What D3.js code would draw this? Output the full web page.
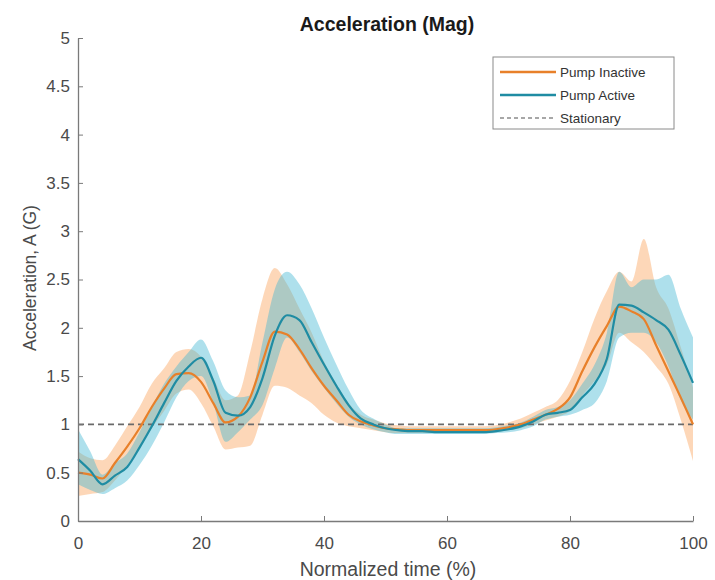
<!DOCTYPE html>
<html>
<head>
<meta charset="utf-8">
<script src="https://cdn.jsdelivr.net/npm/d3@7"></script>
<style>
  html, body { margin: 0; padding: 0; background: #fff; }
  svg { display: block; font-family: "Liberation Sans", Arial, Helvetica, sans-serif; }
</style>
</head>
<body>
<svg id="chart" width="715" height="580"></svg>
<script>
// Normalized time samples (%)
const time = d3.range(0, 101, 2);

// Pump inactive: mean and spread band
const inactiveMean = [0.50,0.48,0.44,0.60,0.77,0.96,1.18,1.37,1.52,1.53,1.44,1.22,1.02,1.08,1.28,1.65,1.96,1.93,1.78,1.58,1.40,1.25,1.10,1.03,0.99,0.96,0.95,0.94,0.94,0.94,0.94,0.94,0.94,0.94,0.95,0.97,1.00,1.05,1.10,1.16,1.28,1.55,1.80,2.02,2.22,2.17,2.09,1.82,1.55,1.28,1.00];
const inactiveLow  = [0.26,0.28,0.30,0.42,0.58,0.76,0.96,1.14,1.32,1.36,1.22,0.98,0.74,0.76,0.78,1.10,1.40,1.38,1.30,1.22,1.10,1.02,0.98,0.96,0.94,0.92,0.91,0.91,0.91,0.91,0.91,0.91,0.91,0.91,0.92,0.94,0.96,1.00,1.04,1.08,1.14,1.30,1.45,1.62,1.95,1.85,1.75,1.60,1.42,1.05,0.62];
const inactiveHigh = [0.72,0.65,0.63,0.78,0.98,1.18,1.42,1.58,1.75,1.78,1.70,1.48,1.25,1.30,1.75,2.30,2.62,2.45,2.20,1.95,1.65,1.42,1.22,1.10,1.05,1.01,0.99,0.98,0.98,0.98,0.98,0.98,0.98,0.98,0.99,1.02,1.06,1.12,1.18,1.25,1.45,1.75,2.10,2.38,2.58,2.48,2.92,2.42,2.20,1.80,1.38];

// Pump active: mean and spread band
const activeMean = [0.64,0.52,0.38,0.47,0.56,0.76,0.98,1.22,1.45,1.60,1.69,1.45,1.12,1.09,1.18,1.48,1.92,2.13,2.08,1.85,1.62,1.40,1.20,1.06,1.00,0.96,0.94,0.93,0.93,0.92,0.92,0.92,0.92,0.92,0.93,0.95,0.98,1.03,1.10,1.12,1.15,1.28,1.42,1.68,2.24,2.23,2.16,2.08,1.98,1.72,1.43];
const activeLow  = [0.38,0.32,0.28,0.34,0.42,0.58,0.78,1.02,1.28,1.45,1.50,1.22,0.82,0.92,1.05,1.20,1.58,1.90,1.75,1.55,1.38,1.22,1.08,1.00,0.95,0.92,0.90,0.90,0.90,0.90,0.90,0.90,0.90,0.90,0.91,0.92,0.94,0.98,1.05,1.08,1.10,1.15,1.22,1.45,1.90,1.95,1.95,1.85,1.60,1.25,1.05];
const activeHigh = [0.95,0.72,0.48,0.60,0.70,0.92,1.18,1.42,1.60,1.75,1.88,1.65,1.35,1.28,1.30,1.85,2.40,2.58,2.45,2.20,1.90,1.62,1.36,1.15,1.06,1.00,0.96,0.96,0.96,0.96,0.96,0.96,0.96,0.96,0.97,0.99,1.02,1.08,1.15,1.18,1.25,1.42,1.62,1.95,2.58,2.42,2.50,2.50,2.55,2.20,1.90];

// Reference level for a stationary device
const stationaryLevel = 1;

// Axis ticks and labels
const xTicks = [0, 20, 40, 60, 80, 100];
const yTicks = [0, 0.5, 1, 1.5, 2, 2.5, 3, 3.5, 4, 4.5, 5];
const titleText = "Acceleration (Mag)";
const xLabel = "Normalized time (%)";
const yLabel = "Acceleration, A (G)";
const legendLabels = ["Pump Inactive", "Pump Active", "Stationary"];

const colors = {
  inactiveLine: "#e8802a",
  inactiveBand: "#fb9f55",
  activeLine: "#1f8ca3",
  activeBand: "#3fb4d2",
  axis: "#7a7a7a",
  text: "#4a4a4a"
};

const svg = d3.select("#chart");
const margin = { left: 78, right: 22, top: 38, bottom: 59 };
const W = 715, H = 580;

const x = d3.scaleLinear().domain([0, 100]).range([margin.left, W - margin.right]);
const y = d3.scaleLinear().domain([0, 5]).range([H - margin.bottom, margin.top]);

const series = [
  { mean: inactiveMean, low: inactiveLow, high: inactiveHigh, line: colors.inactiveLine, band: colors.inactiveBand, bandOpacity: 0.42 },
  { mean: activeMean, low: activeLow, high: activeHigh, line: colors.activeLine, band: colors.activeBand, bandOpacity: 0.42 }
];

const area = (lo, hi) => d3.area()
  .x((d, i) => x(time[i]))
  .y0((d, i) => y(lo[i]))
  .y1((d, i) => y(hi[i]))
  .curve(d3.curveMonotoneX)(time);

const line = vals => d3.line()
  .x((d, i) => x(time[i]))
  .y((d, i) => y(vals[i]))
  .curve(d3.curveMonotoneX)(time);

// Spread bands
series.forEach(s => {
  svg.append("path")
    .attr("d", area(s.low, s.high))
    .attr("fill", s.band)
    .attr("fill-opacity", s.bandOpacity)
    .attr("stroke", "none");
});

// Stationary reference line
svg.append("line")
  .attr("x1", x(0)).attr("x2", x(100))
  .attr("y1", y(stationaryLevel)).attr("y2", y(stationaryLevel))
  .attr("stroke", "#6a6a6a")
  .attr("stroke-width", 1.6)
  .attr("stroke-dasharray", "6,4");

// Mean lines
series.forEach(s => {
  svg.append("path")
    .attr("d", line(s.mean))
    .attr("fill", "none")
    .attr("stroke", s.line)
    .attr("stroke-width", 2.2)
    .attr("stroke-linejoin", "round");
});

// Axes with inward ticks
const xAxis = d3.axisBottom(x).tickValues(xTicks).tickSizeInner(-5).tickSizeOuter(0).tickPadding(16);
const yAxis = d3.axisLeft(y).tickValues(yTicks).tickSizeInner(-5).tickSizeOuter(0).tickPadding(8)
  .tickFormat(d3.format("~g"));

const gx = svg.append("g").attr("transform", `translate(0,${y(0)})`).call(xAxis);
const gy = svg.append("g").attr("transform", `translate(${x(0)},0)`).call(yAxis);

[gx, gy].forEach(g => {
  g.select(".domain").attr("stroke", colors.axis).attr("stroke-width", 1.3);
  g.selectAll(".tick line").attr("stroke", colors.axis).attr("stroke-width", 1);
  g.selectAll(".tick text").attr("fill", colors.text).style("font-size", "17px")
    .style("font-family", "'Liberation Sans', Arial, sans-serif");
});

// Title and axis labels
svg.append("text")
  .attr("x", 387).attr("y", 31)
  .attr("text-anchor", "middle")
  .style("font-size", "19.5px").style("font-weight", "bold").attr("fill", "#1a1a1a")
  .text(titleText);

svg.append("text")
  .attr("x", 388).attr("y", 576)
  .attr("text-anchor", "middle")
  .style("font-size", "19.5px").attr("fill", colors.text)
  .text(xLabel);

svg.append("text")
  .attr("transform", "translate(36,278) rotate(-90)")
  .attr("text-anchor", "middle")
  .style("font-size", "17.5px").attr("fill", colors.text)
  .text(yLabel);

// Legend
const lg = svg.append("g").attr("transform", "translate(493,57)");
lg.append("rect")
  .attr("width", 181).attr("height", 72)
  .attr("fill", "#fff").attr("stroke", "#8a8a8a").attr("stroke-width", 1);

const legendItems = [
  { label: legendLabels[0], stroke: colors.inactiveLine, dash: null, width: 2.6 },
  { label: legendLabels[1], stroke: colors.activeLine, dash: null, width: 2.6 },
  { label: legendLabels[2], stroke: "#8a8a8a", dash: "4,3", width: 1.3 }
];
legendItems.forEach((d, i) => {
  const yy = 15 + i * 23;
  lg.append("line")
    .attr("x1", 7).attr("x2", 63).attr("y1", yy).attr("y2", yy)
    .attr("stroke", d.stroke).attr("stroke-width", d.width)
    .attr("stroke-dasharray", d.dash);
  lg.append("text")
    .attr("x", 67).attr("y", yy + 5)
    .style("font-size", "13.5px").attr("fill", "#333")
    .text(d.label);
});
</script>
</body>
</html>
